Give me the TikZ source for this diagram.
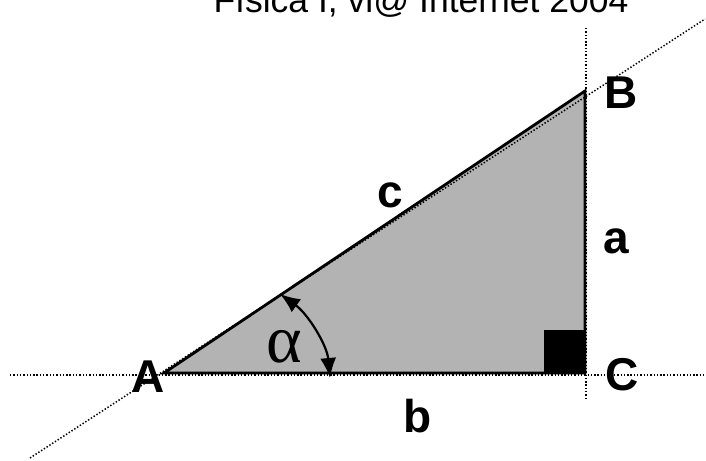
\documentclass[tikz,border=0pt]{standalone}
\usepackage{fontspec}
\setmainfont{Liberation Sans}
\newfontfamily\greekfont{Liberation Serif}
\usetikzlibrary{arrows.meta}
\tikzset{
  guide/.style={line width=1.5pt, dash pattern=on 1.4pt off 1.9pt},
  edge/.style={line width=2.8pt},
  vlabel/.style={font=\fontsize{46}{46}\selectfont\bfseries, anchor=base, inner sep=0pt},
}
\begin{document}
\begin{tikzpicture}[x=1pt,y=-1pt]
\useasboundingbox (0,0) rectangle (706,460);
% vertices
\coordinate (A) at (164,373);
\coordinate (B) at (585,91);
\coordinate (C) at (585,373);
% guide line ends
\coordinate (hl) at (10,375);
\coordinate (hr) at (705,375);
\coordinate (vt) at (586,28);
\coordinate (vb) at (586,400);
\coordinate (dl) at (30,458);
\coordinate (dr) at (705,19);
% triangle
\fill[fill={rgb,255:red,179;green,179;blue,179}] (A) -- (B) -- (C) -- cycle;
\fill[black] (544,330) rectangle (C);
\draw[edge, line join=miter] (A) -- (B) -- (C) -- cycle;
% dotted guides
\draw[guide] (hl) -- (hr);
\draw[guide] (vt) -- (vb);
\draw[guide] (dl) -- (dr);
% angle arc
\coordinate (a1) at (280,294);
\coordinate (a2) at (330,378);
\draw[line width=2.2pt, {Latex[length=20pt,width=16pt]}-{Latex[length=20pt,width=16pt]}]
  (a1) .. controls (308,314) and (327,345) .. (a2);
% title
\node[anchor=base, inner sep=0pt, font=\fontsize{35.5}{36}\selectfont] (title) at (421,13) {Física I, vi@ Internet 2004};
% labels
\node[vlabel] (lA) at (148,392) {A};
\node[vlabel] (lB) at (621,108) {B};
\node[vlabel] (lC) at (622,390) {C};
\node[vlabel] (la) at (616,253) {a};
\node[vlabel] (lb) at (418,432) {b};
\node[vlabel] (lc) at (390,207) {c};
\node[anchor=base, inner sep=0pt, font=\fontsize{68}{68}\selectfont\greekfont] (alpha) at (284,362) {α};
\end{tikzpicture}
\end{document}
